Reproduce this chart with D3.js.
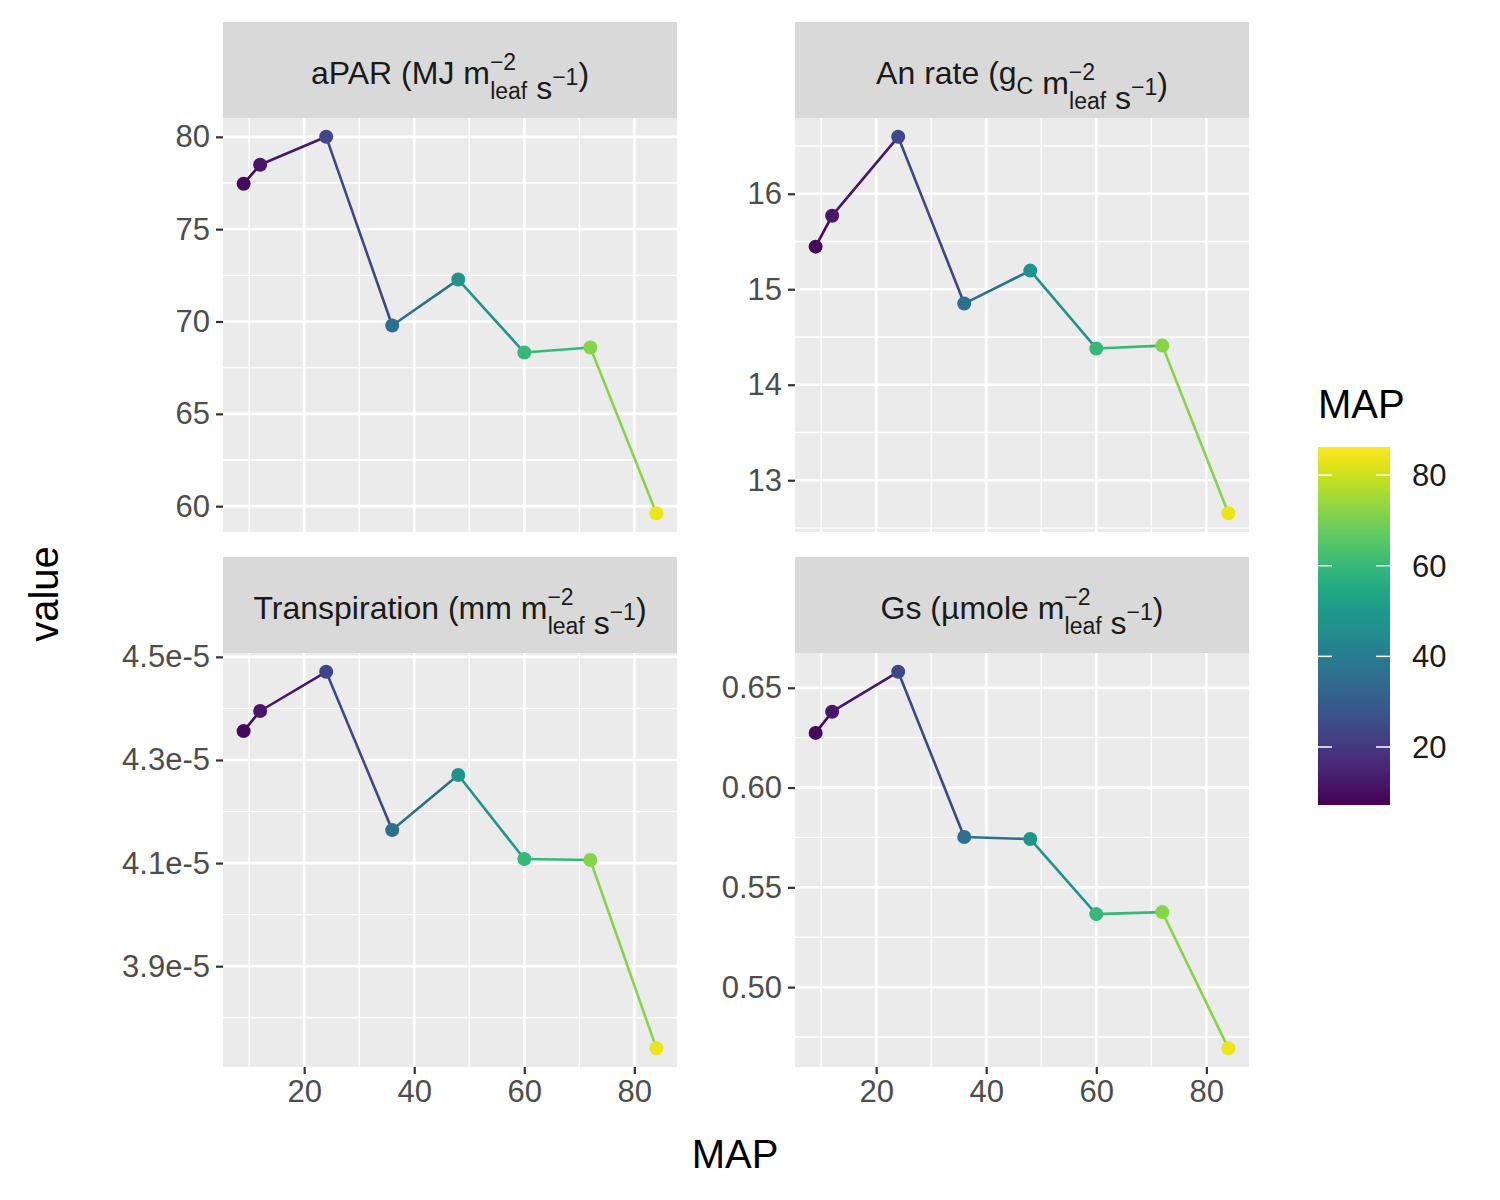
<!DOCTYPE html>
<html><head><meta charset="utf-8">
<script src="https://cdn.jsdelivr.net/npm/d3@7"></script>
<style>body{margin:0;background:#fff}text{font-family:"Liberation Sans",Arial,sans-serif}</style>
</head><body>
<svg id="chart" width="1500" height="1200"></svg>
<script>
// data
const mapValues = [9, 12, 24, 36, 48, 60, 72, 84];
const aparValues = [77.46, 78.49, 80.0, 69.78, 72.27, 68.32, 68.59, 59.62];
const anValues = [15.446, 15.77, 16.596, 14.85, 15.195, 14.38, 14.41, 12.655];
const transValues = [4.356e-5, 4.395e-5, 4.471e-5, 4.164e-5, 4.271e-5, 4.108e-5, 4.106e-5, 3.741e-5];
const gsValues = [0.6274, 0.638, 0.658, 0.5752, 0.5742, 0.5366, 0.5376, 0.4694];
const xTicks = [20, 40, 60, 80];
const colorTicks = [20, 40, 60, 80];

const panels = [
  {vals: aparValues, ticks: [60, 65, 70, 75, 80], fmt: d => d, col: 0, row: 0,
   label: [["aPAR (MJ m",0],["−2",1,"leaf"],[" s",0],["−1",2],[")",0]]},
  {vals: anValues, ticks: [13, 14, 15, 16], fmt: d => d, col: 1, row: 0,
   label: [["An rate (g",0],["C",3],[" m",0],["−2",1,"leaf"],[" s",0],["−1",2],[")",0]]},
  {vals: transValues, ticks: [3.9e-5, 4.1e-5, 4.3e-5, 4.5e-5], fmt: d => d.toExponential(1), col: 0, row: 1,
   label: [["Transpiration (mm m",0],["−2",1,"leaf"],[" s",0],["−1",2],[")",0]]},
  {vals: gsValues, ticks: [0.5, 0.55, 0.6, 0.65], fmt: d3.format(".2f"), col: 1, row: 1,
   label: [["Gs (µmole m",0],["−2",1,"leaf"],[" s",0],["−1",2],[")",0]]}
];

const svg = d3.select("#chart");
const color = d3.scaleSequential(d3.interpolateViridis).domain([7.2, 86.2]);
const colX = [223, 795], rowY = [22, 557], pw = 454, stripH = 96, ph = 414;

panels.forEach(p => {
  const x0 = colX[p.col], y0 = rowY[p.row];
  const g = svg.append("g").attr("transform", `translate(${x0},${y0})`);
  g.append("rect").attr("width", pw).attr("height", stripH).attr("fill", "#d9d9d9");
  const t = g.append("text").attr("x", pw / 2).attr("y", 62).attr("text-anchor", "middle")
    .attr("font-size", 32).attr("fill", "#1a1a1a");
  p.label.forEach(part => {
    if (part[1] === 0) t.append("tspan").text(part[0]);
    else if (part[1] === 1) {
      // stacked super/sub: superscript then subscript under it
      const sup = t.append("tspan").attr("font-size", 23).attr("dy", -14).text(part[0]);
      t.append("tspan").attr("font-size", 23).attr("dx", -26).attr("dy", 29).text(part[2]);
      t.append("tspan").attr("dy", -15).text("");
    } else if (part[1] === 2) {
      t.append("tspan").attr("font-size", 23).attr("dy", -14).text(part[0]);
      t.append("tspan").attr("dy", 14).text("");
    } else {
      t.append("tspan").attr("font-size", 23).attr("dy", 10).text(part[0]);
      t.append("tspan").attr("dy", -10).text("");
    }
  });

  const pg = g.append("g").attr("transform", `translate(0,${stripH})`);
  pg.append("rect").attr("width", pw).attr("height", ph).attr("fill", "#ebebeb");
  const x = d3.scaleLinear().domain([5.25, 87.75]).range([0, pw]);
  const ext = d3.extent(p.vals), pad = (ext[1] - ext[0]) * 0.05;
  const y = d3.scaleLinear().domain([ext[0] - pad, ext[1] + pad]).range([ph, 0]);
  const step = p.ticks[1] - p.ticks[0];
  const minorY = d3.range(p.ticks[0] - step / 2, ext[1] + pad, step).filter(v => v > ext[0] - pad);
  const minorX = [10, 30, 50, 70];
  minorY.forEach(v => pg.append("line").attr("x1", 0).attr("x2", pw).attr("y1", y(v)).attr("y2", y(v)).attr("stroke", "#fff").attr("stroke-width", 1.3));
  minorX.forEach(v => pg.append("line").attr("y1", 0).attr("y2", ph).attr("x1", x(v)).attr("x2", x(v)).attr("stroke", "#fff").attr("stroke-width", 1.3));
  p.ticks.forEach(v => pg.append("line").attr("x1", 0).attr("x2", pw).attr("y1", y(v)).attr("y2", y(v)).attr("stroke", "#fff").attr("stroke-width", 2.7));
  xTicks.forEach(v => pg.append("line").attr("y1", 0).attr("y2", ph).attr("x1", x(v)).attr("x2", x(v)).attr("stroke", "#fff").attr("stroke-width", 2.7));

  const yAxis = pg.append("g").call(d3.axisLeft(y).tickValues(p.ticks).tickFormat(p.fmt).tickSize(7).tickPadding(6));
  yAxis.select(".domain").remove();
  yAxis.selectAll("line").attr("stroke", "#333").attr("stroke-width", 2.2);
  yAxis.selectAll("text").attr("font-size", 31).attr("fill", "#4d4d4d").attr("font-family", "Liberation Sans, Arial, sans-serif");
  if (p.row === 1) {
    const xAxis = pg.append("g").attr("transform", `translate(0,${ph})`)
      .call(d3.axisBottom(x).tickValues(xTicks).tickSize(7).tickPadding(6));
    xAxis.select(".domain").remove();
    xAxis.selectAll("line").attr("stroke", "#333").attr("stroke-width", 2.2);
    xAxis.selectAll("text").attr("font-size", 31).attr("fill", "#4d4d4d").attr("font-family", "Liberation Sans, Arial, sans-serif");
  }

  const pts = mapValues.map((m, i) => ({m, v: p.vals[i]}));
  for (let i = 0; i < pts.length - 1; i++) {
    pg.append("line").attr("x1", x(pts[i].m)).attr("y1", y(pts[i].v))
      .attr("x2", x(pts[i + 1].m)).attr("y2", y(pts[i + 1].v))
      .attr("stroke", color(pts[i].m)).attr("stroke-width", 2.6);
  }
  pg.selectAll("circle").data(pts).enter().append("circle")
    .attr("cx", d => x(d.m)).attr("cy", d => y(d.v)).attr("r", 7).attr("fill", d => color(d.m));
});

svg.append("text").attr("x", 735).attr("y", 1168).attr("text-anchor", "middle").attr("font-size", 40).text("MAP");
svg.append("text").attr("transform", "translate(58,594) rotate(-90)").attr("text-anchor", "middle").attr("font-size", 40).text("value");

// legend
svg.append("text").attr("x", 1318).attr("y", 418).attr("font-size", 40).text("MAP");
const lg = svg.append("g").attr("transform", "translate(1318,447)");
const cy = d3.scaleLinear().domain(color.domain()).range([358, 0]);
const defs = svg.append("defs");
const grad = defs.append("linearGradient").attr("id", "grad").attr("x1", 0).attr("x2", 0).attr("y1", 1).attr("y2", 0);
d3.range(0, 1.01, 0.05).forEach(s => grad.append("stop").attr("offset", s).attr("stop-color", d3.interpolateViridis(s)));
lg.append("rect").attr("width", 72).attr("height", 358).attr("fill", "url(#grad)");
colorTicks.forEach(v => {
  lg.append("line").attr("x1", 0).attr("x2", 14).attr("y1", cy(v)).attr("y2", cy(v)).attr("stroke", "#fff").attr("stroke-width", 1.5);
  lg.append("line").attr("x1", 58).attr("x2", 72).attr("y1", cy(v)).attr("y2", cy(v)).attr("stroke", "#fff").attr("stroke-width", 1.5);
  lg.append("text").attr("x", 94).attr("y", cy(v) + 11).attr("font-size", 31).attr("fill", "#1a1a1a").text(v);
});
</script>
</body></html>
